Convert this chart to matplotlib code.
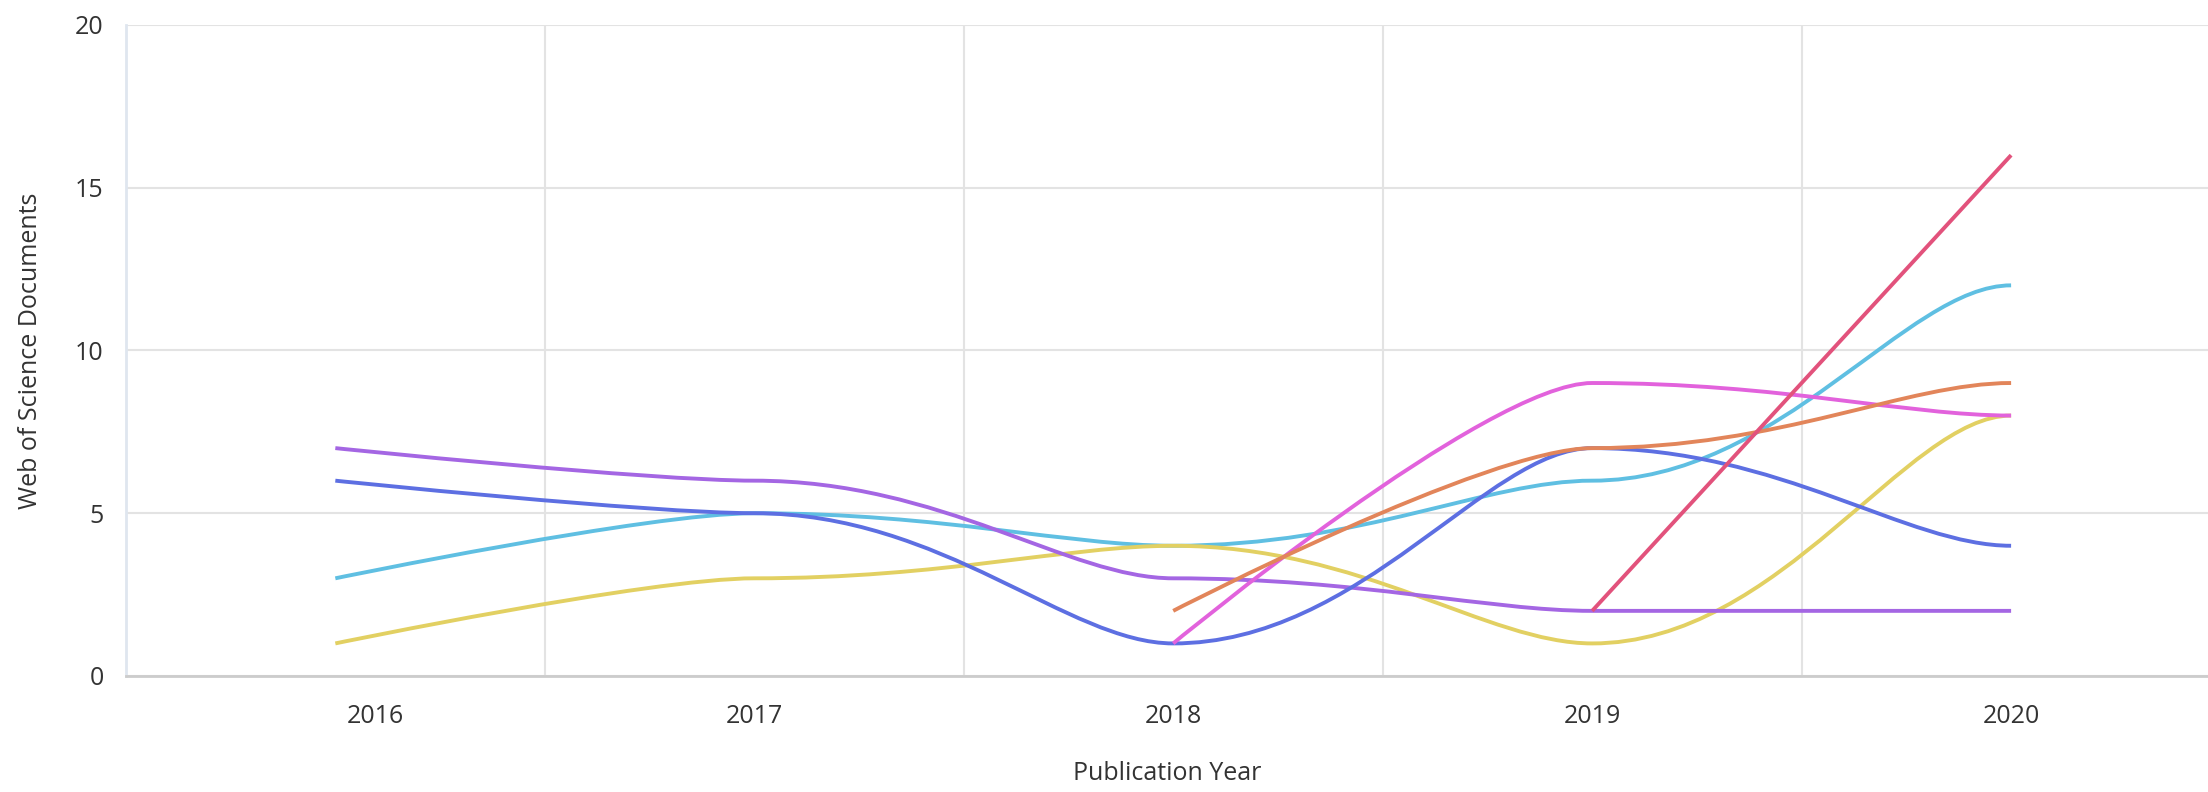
import numpy as np
import matplotlib
matplotlib.use("Agg")
import matplotlib.pyplot as plt
import matplotlib.transforms as mtransforms
from matplotlib.path import Path
from matplotlib.patches import PathPatch

# data
years = [2016, 2017, 2018, 2019, 2020]

s_purple = [7, 6, 3, 2, 2]
s_blue = [6, 5, 1, 7, 4]
s_cyan = [3, 5, 4, 6, 12]
s_yellow = [1, 3, 4, 1, 8]
yrs_late = [2018, 2019, 2020]
s_orange = [2, 7, 9]
s_magenta = [1, 9, 8]
yrs_last = [2019, 2020]
s_red = [2, 16]

series = [
    (years, s_cyan, "#5fbfe2"),
    (years, s_yellow, "#e2d062"),
    (years, s_purple, "#a466e3"),
    (years, s_blue, "#5d6fe2"),
    (yrs_late, s_magenta, "#e262dc"),
    (yrs_late, s_orange, "#e2855a"),
    (yrs_last, s_red, "#e2527c"),
]


def smooth_path(xs, ys, a=0.45, b=0.25):
    # flat tangents at the points, first point free, two points -> straight
    verts = [(xs[0], ys[0])]
    codes = [Path.MOVETO]
    if len(xs) < 3:
        verts.append((xs[1], ys[1]))
        codes.append(Path.LINETO)
        return Path(verts, codes)
    for i in range(len(xs) - 1):
        dx = xs[i + 1] - xs[i]
        c1 = (xs[i] + a * dx, ys[i]) if i > 0 else (xs[i], ys[i])
        c2 = (xs[i + 1] - b * dx, ys[i + 1])
        verts += [c1, c2, (xs[i + 1], ys[i + 1])]
        codes += [Path.CURVE4] * 3
    return Path(verts, codes)


plt.rcParams['font.family'] = ['Open Sans', 'DejaVu Sans']

fig = plt.figure(figsize=(22.08, 7.92), dpi=100)
ax = fig.add_axes([0.057, 0.1465, 0.943, 0.822])

for xs, ys, col in series:
    p = PathPatch(smooth_path(xs, ys), facecolor="none", edgecolor=col,
                  lw=2.8, capstyle="butt", joinstyle="round", zorder=3)
    ax.add_patch(p)

ax.set_xlim(2015.5, 2020.47)
ax.set_ylim(0, 20)
ax.set_xticks(years)
ax.set_xticks([2016.5, 2017.5, 2018.5, 2019.5], minor=True)
ax.set_yticks([0, 5, 10, 15, 20])
ax.grid(True, axis="y", which="major", color="#e3e3e3", lw=1.5)
ax.grid(True, axis="x", which="minor", color="#e3e3e3", lw=1.5)
ax.tick_params(which="both", length=0)
ax.tick_params(axis="y", pad=16, labelsize=18, labelcolor="#333333")
ax.tick_params(axis="x", pad=20, labelsize=18, labelcolor="#333333")

# first year label sits a bit right of its point in the original
first = ax.get_xticklabels()[0]
first.set_transform(first.get_transform() +
                    mtransforms.ScaledTranslation(0.4, 0, fig.dpi_scale_trans))

for side in ["top", "right"]:
    ax.spines[side].set_visible(False)
ax.spines["left"].set_color("#dfe6ef")
ax.spines["left"].set_linewidth(2)
ax.spines["bottom"].set_color("#cccccc")
ax.spines["bottom"].set_linewidth(2)

ax.set_xlabel("Publication Year", fontsize=18, color="#333333")
ax.xaxis.set_label_coords(0.5, -0.13)
ax.set_ylabel("Web of Science Documents", fontsize=18, color="#333333")
ax.yaxis.set_label_coords(-0.040, 0.5)

fig.savefig("out.png", dpi=100, facecolor="white")
